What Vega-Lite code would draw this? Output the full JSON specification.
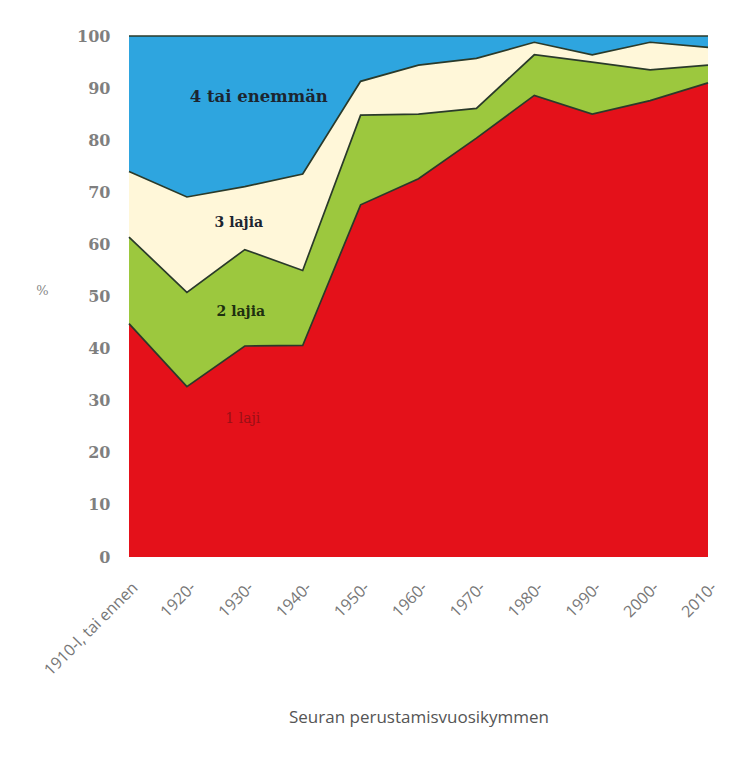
{
  "$schema": "https://vega.github.io/schema/vega-lite/v6.json",
  "width": 579,
  "height": 521,
  "autosize": "none",
  "padding": {"left": 129, "top": 36, "right": 38, "bottom": 201},
  "background": "white",
  "config": {
    "view": {"stroke": null},
    "axis": {"domain": false, "ticks": false, "grid": false},
    "text": {"font": "DejaVu Serif", "fontWeight": "bold", "fontSize": 14, "align": "center", "baseline": "middle"}
  },
  "datasets": {
    "shares": [
      {"k": "1910-l, tai ennen", "s": "1 laji", "v": 44.8},
      {"k": "1920-", "s": "1 laji", "v": 32.7},
      {"k": "1930-", "s": "1 laji", "v": 40.5},
      {"k": "1940-", "s": "1 laji", "v": 40.6},
      {"k": "1950-", "s": "1 laji", "v": 67.6},
      {"k": "1960-", "s": "1 laji", "v": 72.6},
      {"k": "1970-", "s": "1 laji", "v": 80.4},
      {"k": "1980-", "s": "1 laji", "v": 88.6},
      {"k": "1990-", "s": "1 laji", "v": 85.0},
      {"k": "2000-", "s": "1 laji", "v": 87.6},
      {"k": "2010-", "s": "1 laji", "v": 91.0},
      {"k": "1910-l, tai ennen", "s": "2 lajia", "v": 16.6},
      {"k": "1920-", "s": "2 lajia", "v": 18.1},
      {"k": "1930-", "s": "2 lajia", "v": 18.5},
      {"k": "1940-", "s": "2 lajia", "v": 14.4},
      {"k": "1950-", "s": "2 lajia", "v": 17.2},
      {"k": "1960-", "s": "2 lajia", "v": 12.4},
      {"k": "1970-", "s": "2 lajia", "v": 5.7},
      {"k": "1980-", "s": "2 lajia", "v": 7.8},
      {"k": "1990-", "s": "2 lajia", "v": 10.0},
      {"k": "2000-", "s": "2 lajia", "v": 5.9},
      {"k": "2010-", "s": "2 lajia", "v": 3.4},
      {"k": "1910-l, tai ennen", "s": "3 lajia", "v": 12.6},
      {"k": "1920-", "s": "3 lajia", "v": 18.3},
      {"k": "1930-", "s": "3 lajia", "v": 12.1},
      {"k": "1940-", "s": "3 lajia", "v": 18.5},
      {"k": "1950-", "s": "3 lajia", "v": 6.5},
      {"k": "1960-", "s": "3 lajia", "v": 9.4},
      {"k": "1970-", "s": "3 lajia", "v": 9.6},
      {"k": "1980-", "s": "3 lajia", "v": 2.4},
      {"k": "1990-", "s": "3 lajia", "v": 1.4},
      {"k": "2000-", "s": "3 lajia", "v": 5.3},
      {"k": "2010-", "s": "3 lajia", "v": 3.4},
      {"k": "1910-l, tai ennen", "s": "4 tai enemmän", "v": 26.0},
      {"k": "1920-", "s": "4 tai enemmän", "v": 30.9},
      {"k": "1930-", "s": "4 tai enemmän", "v": 28.9},
      {"k": "1940-", "s": "4 tai enemmän", "v": 26.5},
      {"k": "1950-", "s": "4 tai enemmän", "v": 8.7},
      {"k": "1960-", "s": "4 tai enemmän", "v": 5.6},
      {"k": "1970-", "s": "4 tai enemmän", "v": 4.3},
      {"k": "1980-", "s": "4 tai enemmän", "v": 1.2},
      {"k": "1990-", "s": "4 tai enemmän", "v": 3.6},
      {"k": "2000-", "s": "4 tai enemmän", "v": 1.2},
      {"k": "2010-", "s": "4 tai enemmän", "v": 2.2}
    ],
    "labels": [
      {"k": "1930-", "y": 88.3, "t": "4 tai enemmän"},
      {"k": "1930-", "y": 64.1, "t": "3 lajia"},
      {"k": "1930-", "y": 47.0, "t": "2 lajia"},
      {"k": "1930-", "y": 26.4, "t": "1 laji"}
    ]
  },
  "encoding": {
    "x": {
      "field": "k",
      "type": "ordinal",
      "sort": null,
      "scale": {"type": "point", "padding": 0},
      "axis": {
        "title": "Seuran perustamisvuosikymmen",
        "titleFont": "Open Sans",
        "titleFontWeight": "normal",
        "titleFontSize": 17,
        "titleColor": "#555555",
        "titleY": 152,
        "labelAngle": -45,
        "labelFont": "Open Sans",
        "labelFontSize": 16,
        "labelColor": "#777777",
        "labelPadding": 22
      }
    }
  },
  "layer": [
    {
      "data": {"name": "shares"},
      "mark": {"type": "area", "opacity": 1},
      "encoding": {
        "y": {
          "field": "v",
          "type": "quantitative",
          "stack": "zero",
          "scale": {"domain": [0, 100], "nice": false},
          "axis": {
            "values": [0, 10, 20, 30, 40, 50, 60, 70, 80, 90, 100],
            "title": "%",
            "titleAngle": 0,
            "titleFont": "DejaVu Serif",
            "titleFontWeight": "normal",
            "titleFontSize": 13,
            "titleColor": "#888888",
            "titleX": -87,
            "titleY": 261,
            "labelFont": "DejaVu Serif",
            "labelFontSize": 16,
            "labelFontWeight": "bold",
            "labelColor": "#7f7f7f",
            "labelPadding": 19
          }
        },
        "color": {
          "field": "s",
          "type": "nominal",
          "scale": {
            "domain": ["1 laji", "2 lajia", "3 lajia", "4 tai enemmän"],
            "range": ["#E4111A", "#9CC83E", "#FFF7D9", "#2EA5DF"]
          },
          "legend": null
        },
        "order": {"field": "s", "sort": "ascending"}
      }
    },
    {
      "data": {"name": "shares"},
      "mark": {"type": "line", "stroke": "#2A3A2A", "strokeWidth": 1.7},
      "encoding": {
        "y": {"field": "v", "type": "quantitative", "stack": "zero"},
        "detail": {"field": "s", "type": "nominal"},
        "order": {"field": "s", "sort": "ascending"}
      }
    },
    {
      "data": {"name": "labels"},
      "transform": [{"filter": "datum.t === '4 tai enemmän'"}],
      "mark": {"type": "text", "dx": 14, "fontSize": 16.5, "color": "#1C2530"},
      "encoding": {"y": {"field": "y", "type": "quantitative"}, "text": {"field": "t"}}
    },
    {
      "data": {"name": "labels"},
      "transform": [{"filter": "datum.t === '3 lajia'"}],
      "mark": {"type": "text", "dx": -6, "color": "#1C2530"},
      "encoding": {"y": {"field": "y", "type": "quantitative"}, "text": {"field": "t"}}
    },
    {
      "data": {"name": "labels"},
      "transform": [{"filter": "datum.t === '2 lajia'"}],
      "mark": {"type": "text", "dx": -4, "color": "#1E3010"},
      "encoding": {"y": {"field": "y", "type": "quantitative"}, "text": {"field": "t"}}
    },
    {
      "data": {"name": "labels"},
      "transform": [{"filter": "datum.t === '1 laji'"}],
      "mark": {"type": "text", "dx": -2, "fontWeight": "normal", "color": "#9A1016"},
      "encoding": {"y": {"field": "y", "type": "quantitative"}, "text": {"field": "t"}}
    }
  ]
}
